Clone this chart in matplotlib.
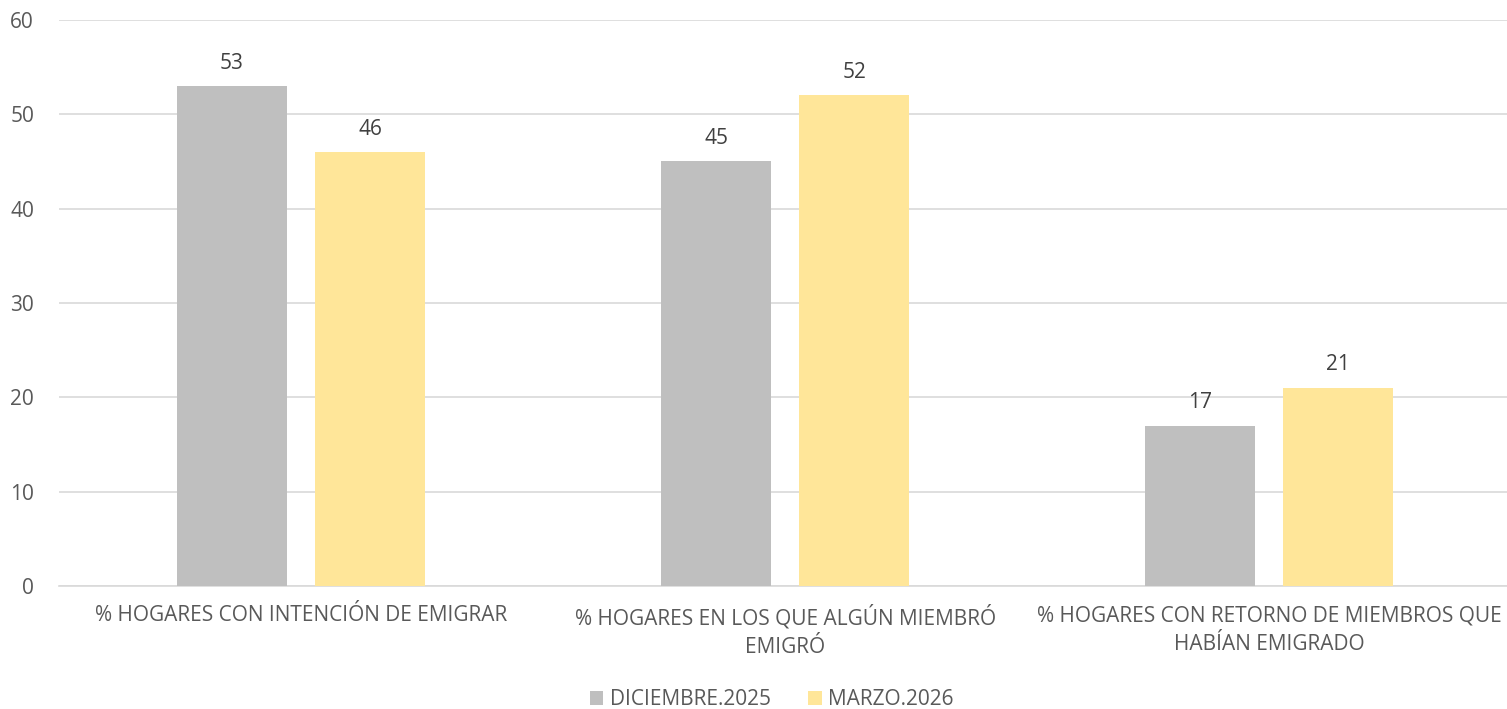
import numpy as np
import matplotlib
matplotlib.use("Agg")
import matplotlib.pyplot as plt

categories = ["% HOGARES CON INTENCIÓN DE EMIGRAR",
              "% HOGARES EN LOS QUE ALGÚN MIEMBRÓ\nEMIGRÓ",
              "% HOGARES CON RETORNO DE MIEMBROS QUE\nHABÍAN EMIGRADO"]
series_names = ["DICIEMBRE.2025", "MARZO.2026"]
dic_2025 = [53, 45, 17]
mar_2026 = [46, 52, 21]

plt.rcParams['font.family'] = ['Open Sans', 'DejaVu Sans']
txt = '#595959'
fs = 15

fig = plt.figure(figsize=(15.07, 7.09), dpi=100)
ax = fig.add_axes([0.0392, 0.1735, 0.9635, 0.7983])

x = np.arange(len(categories))
w = 0.227
off = 0.1426
b1 = ax.bar(x - off, dic_2025, w, color='#BFBFBF', label=series_names[0], zorder=3)
b2 = ax.bar(x + off, mar_2026, w, color='#FFE699', label=series_names[1], zorder=3)

for bars in (b1, b2):
    for r in bars:
        ax.annotate(f"{r.get_height():.0f}", (r.get_x() + r.get_width() / 2, r.get_height()),
                    xytext=(0, 9), textcoords='offset points', ha='center', va='bottom',
                    fontsize=fs, color='#404040')

ax.set_xlim(-0.5, 2.5)
ax.set_ylim(0, 60)
ax.set_yticks(range(0, 61, 10))
ax.set_xticks(x)
ax.set_xticklabels(categories, fontsize=fs, color=txt, linespacing=1.45, multialignment='center')
ax.tick_params(axis='y', labelsize=fs, labelcolor=txt, length=0, pad=18)
ax.tick_params(axis='x', length=0, pad=14)
ax.grid(axis='y', color='#D9D9D9', linewidth=1.2, zorder=0)
for s in ['top', 'right', 'left']:
    ax.spines[s].set_visible(False)
ax.spines['bottom'].set_color('#D9D9D9')
ax.spines['bottom'].set_linewidth(1.2)

fig.legend(loc='lower center', bbox_to_anchor=(0.512, -0.028), ncol=2, frameon=False,
           fontsize=fs, labelcolor=txt, handlelength=0.65, handleheight=0.65,
           handletextpad=0.3, columnspacing=1.8)

fig.savefig("out.png", dpi=100)
